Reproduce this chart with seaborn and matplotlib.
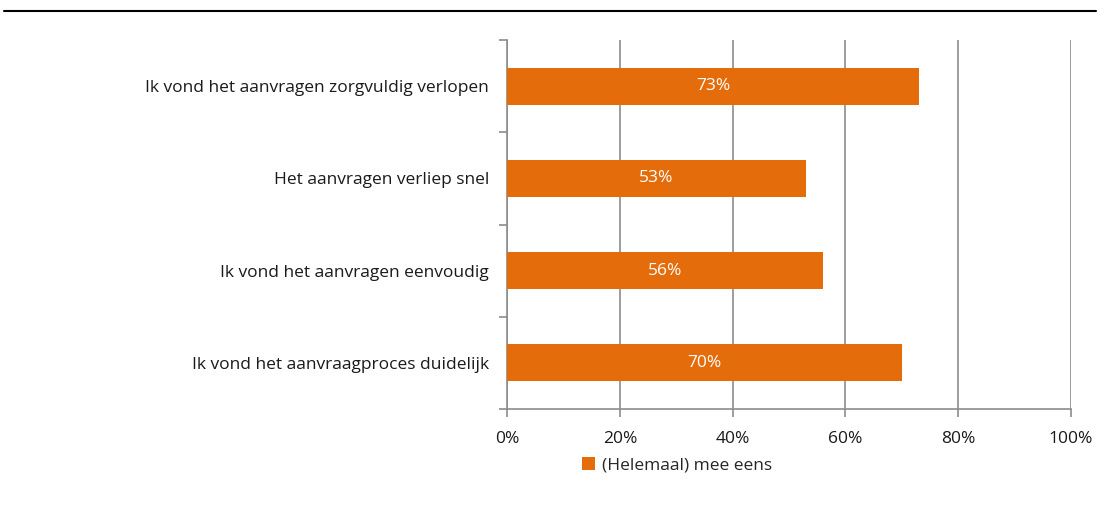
import pandas as pd
import numpy as np
import matplotlib
matplotlib.use("Agg")
import matplotlib.pyplot as plt
import seaborn as sns
from matplotlib.lines import Line2D
from matplotlib.patches import Patch

categories = [
    "Ik vond het aanvragen zorgvuldig verlopen",
    "Het aanvragen verliep snel",
    "Ik vond het aanvragen eenvoudig",
    "Ik vond het aanvraagproces duidelijk",
]
values = [73, 53, 56, 70]
series_name = "(Helemaal) mee eens"
x_ticks = [0, 20, 40, 60, 80, 100]
x_tick_labels = ["0%", "20%", "40%", "60%", "80%", "100%"]

sns.set_theme(style="white")
plt.rcParams["font.family"] = ["Open Sans", "DejaVu Sans"]

df = pd.DataFrame({"category": categories, "value": values})

fig = plt.figure(figsize=(11, 5.29), dpi=100)
ax = fig.add_axes([0.461, 0.227, 0.9736 - 0.461, 0.924 - 0.227])

orange = "#E46C0A"
sns.barplot(data=df, x="value", y="category", orient="h", color=orange,
            width=0.4, saturation=1, ax=ax, zorder=3, linewidth=0)

ax.bar_label(ax.containers[0], labels=[f"{v}%" for v in values],
             label_type="center", color="white", fontsize=12.5)

ax.set_xlim(0, 100)
ax.set_ylim(3.5, -0.5)
ax.set_xticks(x_ticks)
ax.set_xticklabels(x_tick_labels, fontsize=12.5, color="#1a1a1a")
ax.set_yticks(range(len(categories)))
ax.set_yticklabels(categories, fontsize=12.5, color="#1a1a1a")
ax.set_xlabel("")
ax.set_ylabel("")

ax.grid(axis="x", color="#8c8c8c", linewidth=1.2, zorder=0)
ax.grid(axis="y", visible=False)
for s in ["top", "right"]:
    ax.spines[s].set_visible(False)
ax.spines["left"].set_color("#8c8c8c")
ax.spines["bottom"].set_color("#8c8c8c")
ax.spines["left"].set_linewidth(1.2)
ax.spines["bottom"].set_linewidth(1.2)

# category boundary ticks on y axis
ax.tick_params(axis="y", which="major", left=False, length=0, pad=13)
ax.set_yticks(np.arange(-0.5, len(categories), 1), minor=True)
ax.tick_params(axis="y", which="minor", left=True, length=6, color="#8c8c8c",
               width=1.2, direction="out")
ax.tick_params(axis="x", which="major", bottom=True, length=6, color="#8c8c8c",
               width=1.2, direction="out", pad=10)

fig.add_artist(Line2D([0.004, 0.996], [0.979, 0.979], color="black", linewidth=1.5,
                      transform=fig.transFigure))

handle = Patch(facecolor=orange, edgecolor="none")
fig.legend([handle], [series_name], loc="center", bbox_to_anchor=(677 / 1100, 1 - 465 / 529),
           frameon=False, fontsize=12.5, handlelength=0.8, handleheight=0.8, handletextpad=0.4)

fig.savefig("out.png", dpi=100)
